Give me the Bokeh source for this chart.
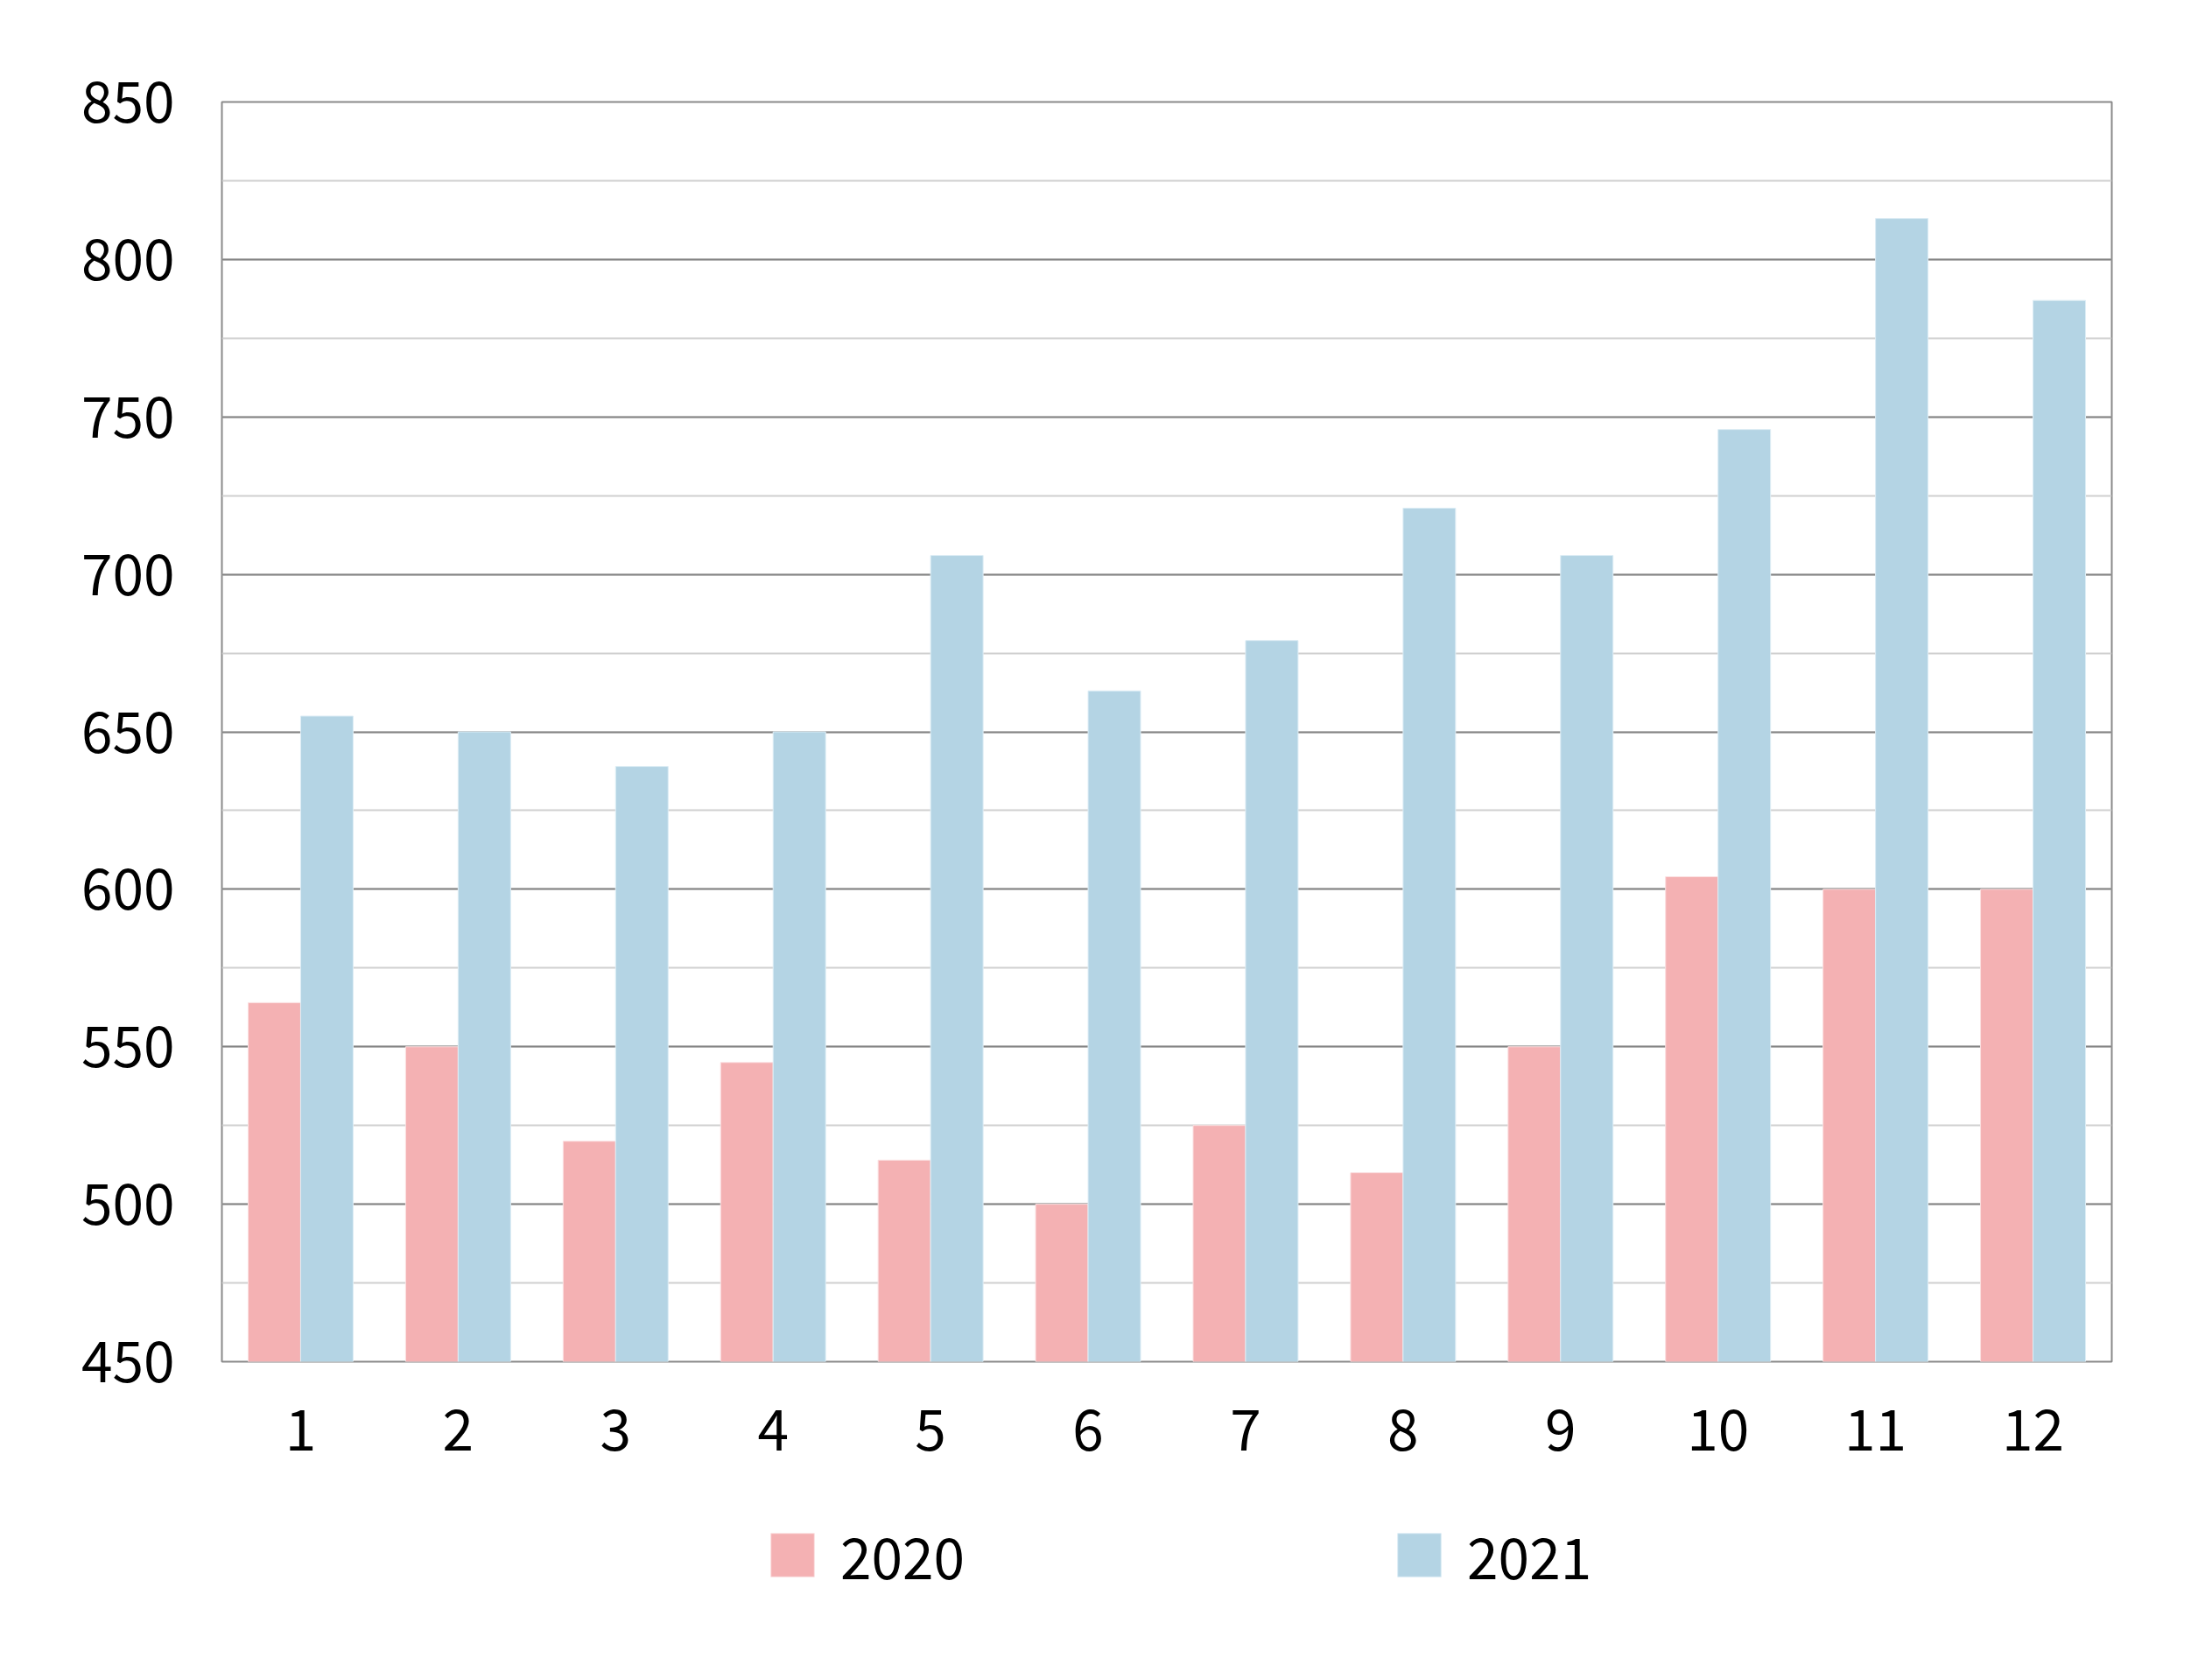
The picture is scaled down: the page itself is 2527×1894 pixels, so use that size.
from bokeh.plotting import figure
from bokeh.models import FactorRange, Range1d, SingleIntervalTicker, Legend, LegendItem, ColumnDataSource
from bokeh.transform import dodge
from bokeh.layouts import column
from bokeh.embed import file_html
from bokeh.resources import INLINE

months = ["1", "2", "3", "4", "5", "6", "7", "8", "9", "10", "11", "12"]
series_names = ["2020", "2021"]
values_2020 = [564, 550, 520, 545, 514, 500, 525, 510, 550, 604, 600, 600]
values_2021 = [655, 650, 639, 650, 706, 663, 679, 721, 706, 746, 813, 787]
y_min, y_max, y_step = 450, 850, 50

FONT = "Noto Sans CJK JP"
PINK = "#F4B1B3"
BLUE = "#B4D4E4"

src = ColumnDataSource(dict(month=months, v2020=values_2020, v2021=values_2021))

p = figure(width=2511, height=1720, x_range=FactorRange(*months),
           y_range=Range1d(y_min, y_max), output_backend="svg",
           toolbar_location=None, min_border_left=253, min_border_right=99,
           min_border_top=116, min_border_bottom=165)
p.background_fill_color = "white"
p.border_fill_color = "white"
p.outline_line_color = "#8a8a8a"
p.outline_line_width = 2

r1 = p.vbar(x=dodge("month", -1/6, range=p.x_range), top="v2020", bottom=y_min, width=1/3,
            source=src, fill_color=PINK, line_color="#fbe0e1", line_width=1)
r2 = p.vbar(x=dodge("month", 1/6, range=p.x_range), top="v2021", bottom=y_min, width=1/3,
            source=src, fill_color=BLUE, line_color="#ddedf5", line_width=1)

p.yaxis.ticker = SingleIntervalTicker(interval=y_step, num_minor_ticks=2)
p.ygrid.ticker = p.yaxis.ticker
p.ygrid.grid_line_color = "#848484"
p.ygrid.grid_line_width = 2
p.ygrid.minor_grid_line_color = "#d0d0d0"
p.ygrid.minor_grid_line_width = 2
p.ygrid.level = "underlay"
p.xgrid.grid_line_color = None

for ax in (p.xaxis, p.yaxis):
    ax.axis_line_color = None
    ax.major_tick_line_color = None
    ax.minor_tick_line_color = None
    ax.major_tick_out = 0
    ax.minor_tick_out = 0
    ax.major_label_text_font = FONT
    ax.major_label_text_font_size = "64px"
    ax.major_label_text_color = "black"

p.yaxis.major_label_standoff = 54
p.xaxis.major_label_standoff = 54

# legend strip below the chart (its frame is aligned with the chart's frame)
lg = figure(width=2511, height=150, x_range=Range1d(0, 1), y_range=Range1d(0, 1),
            output_backend="svg", toolbar_location=None,
            x_axis_location=None, y_axis_location=None,
            min_border_left=0, min_border_right=0, min_border_top=0, min_border_bottom=0)
lg.outline_line_color = None
lg.grid.visible = False
lg.background_fill_color = "white"
lg.border_fill_color = "white"
# placeholder renderers kept outside the visible range; only their legend swatches show
e1 = lg.vbar(x=[-5], top=[-5], bottom=[-6], width=0.1, fill_color=PINK, line_color="#fbe0e1")
e2 = lg.vbar(x=[-5], top=[-5], bottom=[-6], width=0.1, fill_color=BLUE, line_color="#ddedf5")

legend = Legend(items=[LegendItem(label=series_names[0], renderers=[e1]),
                       LegendItem(label=series_names[1], renderers=[e2])],
                orientation="horizontal", location=(621, 48),
                glyph_width=62, glyph_height=62, label_standoff=24,
                label_text_font=FONT, label_text_font_size="64px",
                label_text_color="black",
                label_height=62, spacing=488, padding=0, margin=0,
                border_line_color=None, background_fill_alpha=0)
lg.add_layout(legend, "center")

open("out.html", "w").write(file_html(column(p, lg), INLINE))
